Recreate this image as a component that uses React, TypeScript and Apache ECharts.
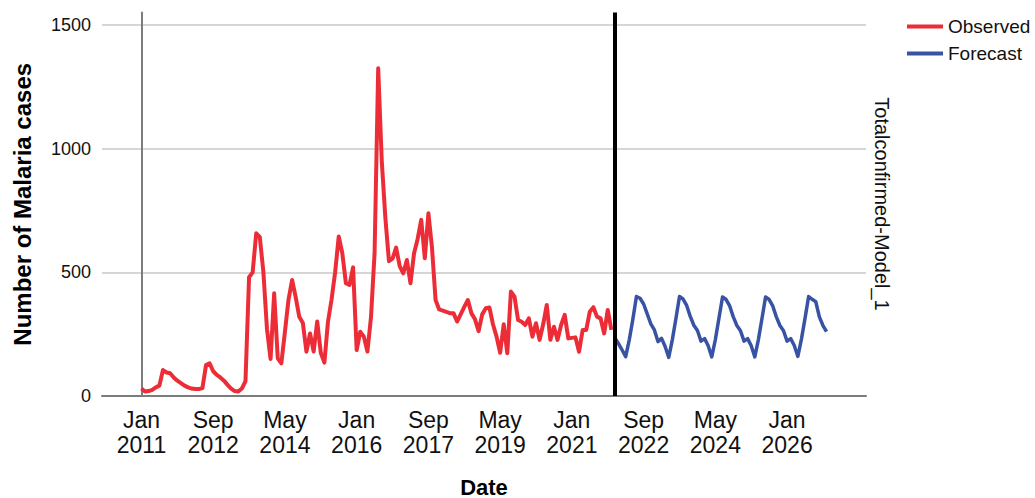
import React, { useEffect, useRef } from 'react';
import * as echarts from 'echarts';

// Monthly observed cases, Jan 2011 (month 0) .. Dec 2021 (month 131)
const observed = [
  30, 18, 20, 25, 35, 42, 105, 95, 92, 75, 62, 52,
  42, 35, 30, 28, 28, 32, 125, 132, 100, 85, 75, 62,
  45, 30, 20, 18, 30, 60, 480, 500, 658, 642, 500, 270,
  150, 415, 152, 132, 260, 390, 469, 400, 320, 295, 179, 253,
  180, 301, 175, 135, 300, 390, 500, 645, 577, 456, 449, 520,
  186, 260, 240, 180, 320, 580, 1325, 950, 720, 545, 555, 600,
  525, 496, 550, 456, 577, 635, 712, 557, 739, 600, 388, 350,
  345, 340, 335, 335, 301, 330, 360, 388, 334, 310, 262, 330,
  355, 358, 290, 240, 175, 290, 173, 422, 402, 307, 300, 287,
  314, 240, 294, 227, 290, 368, 227, 280, 227, 287, 328, 233,
  235, 237, 179, 267, 267, 341, 359, 321, 314, 253, 348, 267,
];

// Monthly forecast, Jan 2022 (month 132) .. Dec 2026 (month 191)
const forecastStart = 132;
const forecast = [
  235, 212, 186, 159, 227, 310, 402, 395, 372, 332, 292, 267,
  220, 233, 200, 156, 227, 312, 402, 392, 366, 322, 286, 265,
  222, 232, 203, 158, 228, 314, 400, 390, 364, 320, 285, 264,
  222, 232, 203, 158, 228, 313, 400, 390, 364, 320, 285, 264,
  222, 232, 204, 160, 230, 314, 402, 391, 381, 320, 285, 260,
];

const tickMonths = [0, 20, 40, 60, 80, 100, 120, 140, 160, 180];
const tickLabels = [
  'Jan\n2011', 'Sep\n2012', 'May\n2014', 'Jan\n2016', 'Sep\n2017',
  'May\n2019', 'Jan\n2021', 'Sep\n2022', 'May\n2024', 'Jan\n2026',
];
const yTicks = [0, 500, 1000, 1500];

const FONT = '"Liberation Sans", Arial, sans-serif';

export default function App() {
  const ref = useRef<HTMLDivElement>(null);

  useEffect(() => {
    document.body.style.margin = '0';
    const chart = echarts.init(ref.current!, null, { renderer: 'svg' });
    chart.setOption({
      animation: false,
      backgroundColor: '#ffffff',
      textStyle: { fontFamily: FONT },
      grid: {
        left: 102,
        right: 169,
        top: 12.6,
        bottom: 102,
        containLabel: false,
        outerBoundsMode: 'none',
      },
      legend: {
        orient: 'vertical',
        left: 907,
        top: 17,
        padding: 0,
        itemWidth: 36,
        itemHeight: 4,
        itemGap: 8,
        itemTextGap: 6,
        icon: 'rect',
        textStyle: { fontSize: 19, color: '#111', fontFamily: FONT },
        data: ['Observed', 'Forecast'],
      },
      xAxis: {
        type: 'value',
        min: -11,
        max: 202,
        name: 'Date',
        nameLocation: 'middle',
        nameGap: 80,
        nameTextStyle: { fontSize: 22, fontWeight: 'bold', color: '#000', fontFamily: FONT },
        axisLine: { show: true, onZero: false, lineStyle: { color: '#7c7c7c', width: 2 } },
        axisTick: { show: false },
        splitLine: { show: false },
        axisLabel: {
          customValues: tickMonths,
          fontSize: 23,
          lineHeight: 25,
          margin: 11,
          color: '#111',
          fontFamily: FONT,
          formatter: (v: number) => {
            const i = tickMonths.indexOf(Math.round(v));
            return i >= 0 ? tickLabels[i] : '';
          },
        },
      },
      yAxis: {
        type: 'value',
        min: 0,
        max: 1550,
        interval: 500,
        name: 'Number of Malaria cases',
        nameLocation: 'middle',
        nameGap: 68,
        nameTextStyle: { fontSize: 24, fontWeight: 'bold', color: '#000', fontFamily: FONT },
        axisLine: { show: true, lineStyle: { color: '#7c7c7c', width: 2 } },
        axisTick: { show: false },
        splitLine: {
          show: true,
          lineStyle: { color: ['#c8c8c8', '#c8c8c8', '#c8c8c8', '#c8c8c8', 'rgba(0,0,0,0)'], width: 1.5 },
        },
        axisLabel: {
          fontSize: 18,
          margin: 11,
          color: '#111',
          fontFamily: FONT,
          formatter: (v: number) => (yTicks.indexOf(v) >= 0 ? String(v) : ''),
        },
      },
      series: [
        {
          name: 'Observed',
          type: 'line',
          showSymbol: false,
          symbol: 'none',
          color: '#ec2d38',
          lineStyle: { color: '#ec2d38', width: 4, join: 'round' },
          data: observed.map((v, i) => [i, v]),
        },
        {
          name: 'Forecast',
          type: 'line',
          showSymbol: false,
          symbol: 'none',
          color: '#3953a4',
          lineStyle: { color: '#3953a4', width: 3.5, join: 'round' },
          data: forecast.map((v, i) => [forecastStart + i, v]),
          markLine: {
            silent: true,
            symbol: ['none', 'none'],
            label: { show: false },
            lineStyle: { color: '#000', width: 4, type: 'solid' },
            data: [{ xAxis: forecastStart }],
          },
        },
      ],
      graphic: [
        {
          type: 'text',
          x: 882,
          y: 204,
          rotation: -Math.PI / 2,
          style: {
            text: 'Totalconfirmed-Model_1',
            fontSize: 20,
            fontFamily: FONT,
            fill: '#111',
            align: 'center',
            verticalAlign: 'middle',
          },
        },
      ],
    });
    return () => chart.dispose();
  }, []);

  return <div ref={ref} style={{ width: 1035, height: 498 }} />;
}
